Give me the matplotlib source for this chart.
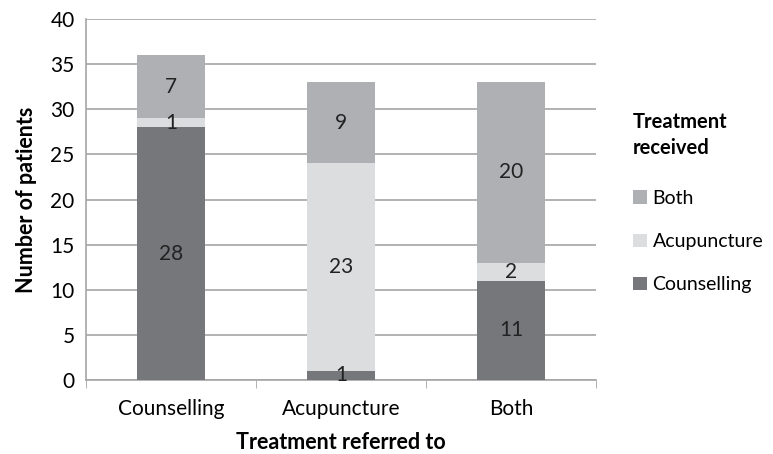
import numpy as np
import matplotlib.pyplot as plt

plt.rcParams['font.family'] = ['Lato', 'DejaVu Sans']

# --- data ---
referred = ["Counselling", "Acupuncture", "Both"]
recv_counselling = [28, 1, 11]
recv_acupuncture = [1, 23, 2]
recv_both = [7, 9, 20]

colors = {"Counselling": "#76777b", "Acupuncture": "#dcdddf", "Both": "#afb0b3"}

fig = plt.figure(figsize=(7.73, 4.54), dpi=100)
ax = fig.add_axes([0.111, 0.163, 0.66, 0.795])

x = np.arange(len(referred))
w = 0.4
b1 = ax.bar(x, recv_counselling, w, color=colors["Counselling"], label="Counselling", zorder=3)
b2 = ax.bar(x, recv_acupuncture, w, bottom=recv_counselling, color=colors["Acupuncture"],
            label="Acupuncture", zorder=3)
bottom3 = np.array(recv_counselling) + np.array(recv_acupuncture)
b3 = ax.bar(x, recv_both, w, bottom=bottom3, color=colors["Both"], label="Both", zorder=3)

# value labels in the middle of each segment
for bars in (b1, b2, b3):
    ax.bar_label(bars, label_type="center", fontsize=15, color="#222222")

ax.set_xlim(-0.5, 2.5)
ax.set_ylim(0, 40)
ax.set_yticks(range(0, 41, 5))
ax.set_xticks(x)
ax.set_xticklabels(referred)
ax.set_xticks([-0.5, 0.5, 1.5, 2.5], minor=True)
ax.tick_params(axis="x", which="major", length=0, pad=14, labelsize=15)
ax.tick_params(axis="x", which="minor", length=6, color="#a6a6a6")
ax.tick_params(axis="y", length=0, pad=8, labelsize=15)

ax.grid(True, axis="y", color="#a6a6a6", linewidth=1.2, zorder=0)
for s in ("top", "right"):
    ax.spines[s].set_visible(False)
for s in ("left", "bottom"):
    ax.spines[s].set_color("#a6a6a6")
    ax.spines[s].set_linewidth(1.2)

ax.set_xlabel("Treatment referred to", fontsize=15.5, fontweight="bold", labelpad=9)
ax.set_ylabel("Number of patients", fontsize=15.5, fontweight="bold", labelpad=10)

# --- legend ---
fig.text(0.819, 1 - 122 / 454, "Treatment", fontsize=14.5, fontweight="bold", va="center")
fig.text(0.819, 1 - 148 / 454, "received", fontsize=14.5, fontweight="bold", va="center")
handles = [b3, b2, b1]
leg = fig.legend(handles, ["Both", "Acupuncture", "Counselling"],
                 loc="upper left", bbox_to_anchor=(0.819, 1 - 190 / 454), frameon=False,
                 fontsize=14, handlelength=0.7, handleheight=0.7, handletextpad=0.3,
                 labelspacing=1.35, borderpad=0, borderaxespad=0)

fig.savefig("out.png", dpi=100)
